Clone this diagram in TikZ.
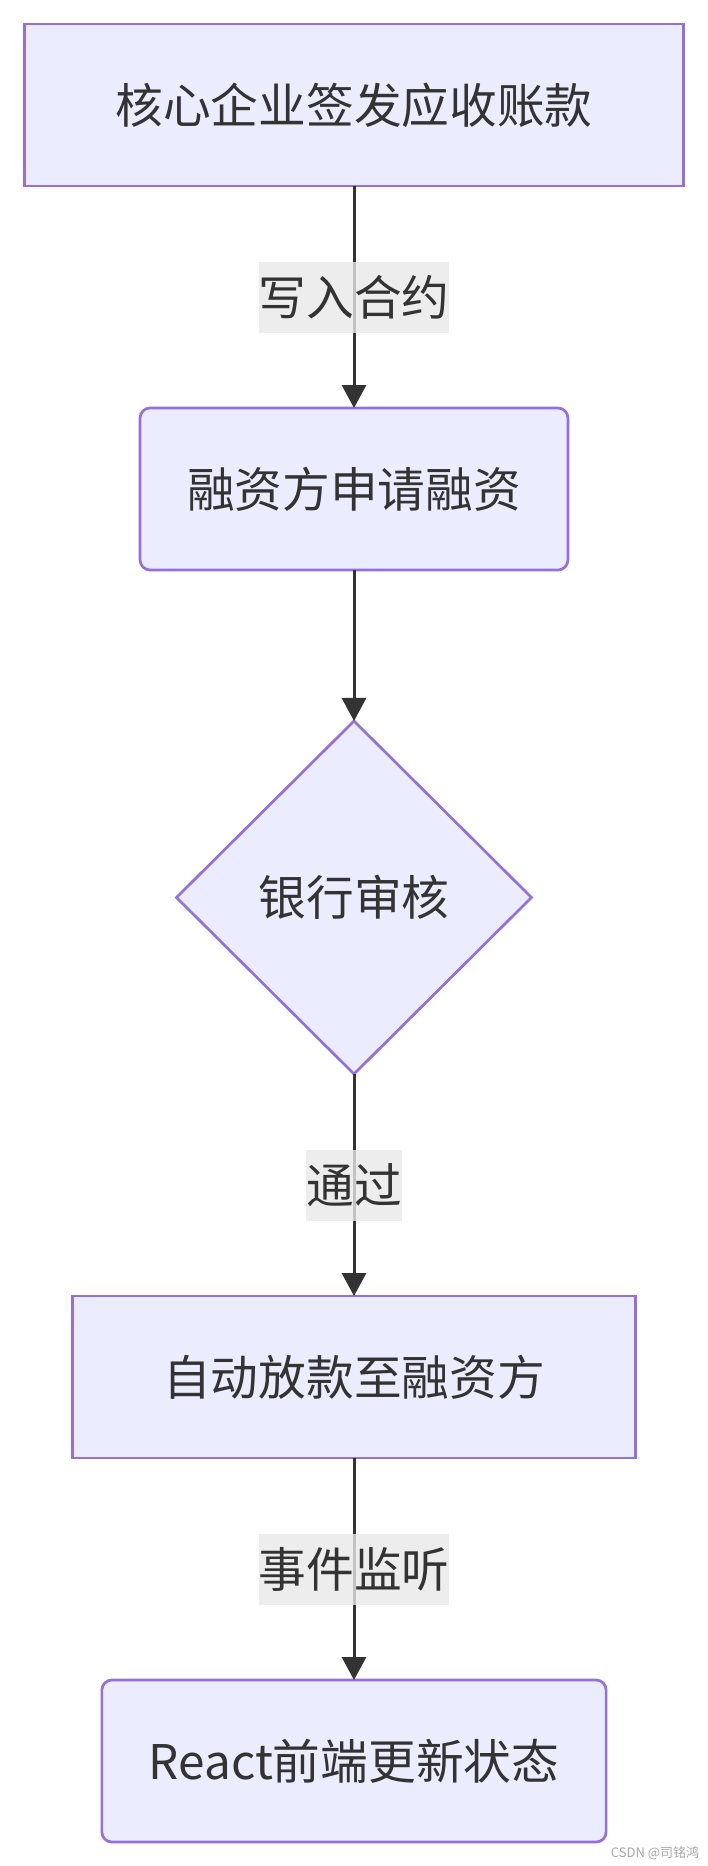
\documentclass[tikz,border=0pt]{standalone}
\usepackage{fontspec}
\setmainfont{Noto Sans CJK SC}
\usepackage{tikz}
\usetikzlibrary{shapes.geometric, arrows.meta, positioning}
\definecolor{nodefill}{HTML}{ECECFF}
\definecolor{nodeline}{HTML}{9370DB}
\definecolor{ink}{HTML}{333333}
\definecolor{labelbg}{HTML}{E8E8E8}
\newcommand{\flowfont}{\fontsize{47.7}{57}\selectfont}

\begin{document}
\begin{tikzpicture}[
    box/.style={draw=nodeline, fill=nodefill, rectangle, line width=2.7pt, text=ink, font=\flowfont, minimum height=162pt, inner xsep=91pt, inner ysep=0pt, outer sep=0pt},
    roundbox/.style={box, rounded corners=10pt, inner xsep=47pt},
    decision/.style={box, diamond, minimum width=355pt, minimum height=353pt, inner sep=0pt},
    edgelabel/.style={fill=labelbg, fill opacity=0.8, text opacity=1, text=ink, font=\flowfont, inner sep=0pt, minimum height=71pt},
    arrow/.style={-{Triangle[width=24pt, length=23pt]}, line width=3pt, ink}
]
\useasboundingbox (0pt,0pt) rectangle (708pt,-1866pt);
\node[box] (issue) at (354pt,-105pt) {核心企业签发应收账款};
\node[roundbox, below=222pt of issue] (apply) {融资方申请融资};
\node[decision, below=151pt of apply] (review) {银行审核};
\node[box, below=222pt of review] (release) {自动放款至融资方};
\node[roundbox, below=222pt of release] (frontend) {React前端更新状态};
\node[text=black!35, font=\fontsize{13}{15}\selectfont] (watermark) at (655pt,-1853pt) {CSDN @司铭鸿};
\draw[arrow] (issue) -- node[edgelabel] {写入合约} (apply);
\draw[arrow] (apply) -- (review);
\draw[arrow] (review) -- node[edgelabel] {通过} (release);
\draw[arrow] (release) -- node[edgelabel] {事件监听} (frontend);
\end{tikzpicture}
\end{document}
